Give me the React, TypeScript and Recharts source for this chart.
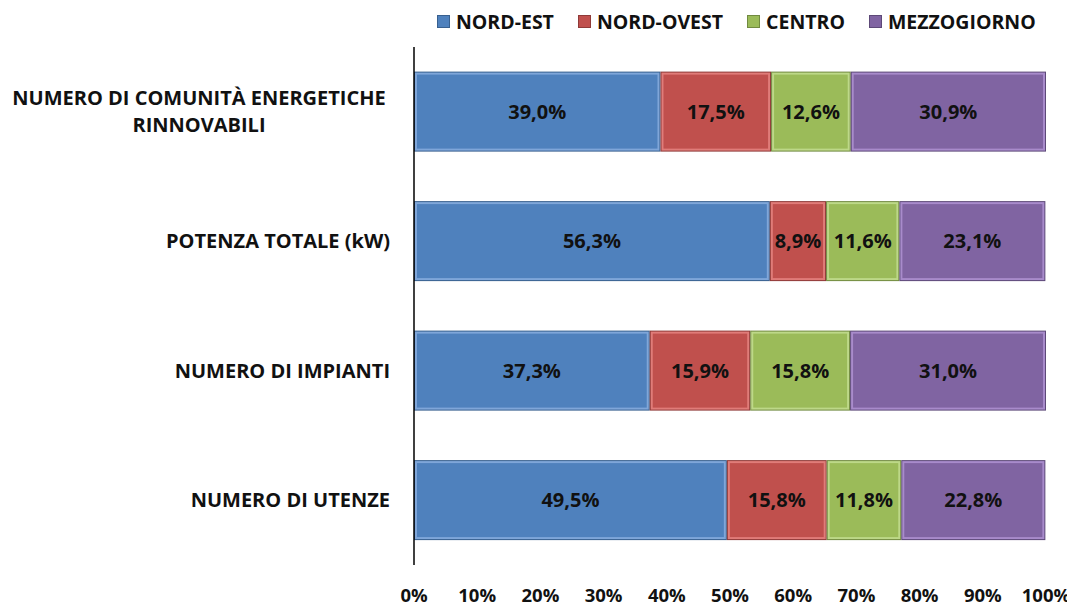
import React from 'react';
import { BarChart, Bar, XAxis, YAxis, LabelList, Legend } from 'recharts';

const categories = [
  'NUMERO DI COMUNITÀ ENERGETICHE\nRINNOVABILI',
  'POTENZA TOTALE (kW)',
  'NUMERO DI IMPIANTI',
  'NUMERO DI UTENZE',
];
const nordEst = [39.0, 56.3, 37.3, 49.5];
const nordOvest = [17.5, 8.9, 15.9, 15.8];
const centro = [12.6, 11.6, 15.8, 11.8];
const mezzogiorno = [30.9, 23.1, 31.0, 22.8];
const xTicks = [0, 10, 20, 30, 40, 50, 60, 70, 80, 90, 100];

const seriesList = [
  { key: 'nordEst', name: 'NORD-EST', fill: '#4F81BD', edge: '#38608f', light: '#7fa6d9' },
  { key: 'nordOvest', name: 'NORD-OVEST', fill: '#C0504D', edge: '#8f3a38', light: '#e07c79' },
  { key: 'centro', name: 'CENTRO', fill: '#9BBB59', edge: '#718a40', light: '#bdd888' },
  { key: 'mezzogiorno', name: 'MEZZOGIORNO', fill: '#8064A2', edge: '#5d4978', light: '#a88bcb' },
];

const data = categories.map((c, i) => ({
  category: c,
  nordEst: nordEst[i],
  nordOvest: nordOvest[i],
  centro: centro[i],
  mezzogiorno: mezzogiorno[i],
}));

const FONT = '"Open Sans", sans-serif';

const fmt = (v: number) => v.toFixed(1).replace('.', ',') + '%';

// bevelled bar, a bit like the old excel 3d look
const makeShape = (fill: string, edge: string, light: string) => (props: any) => {
  const { x, y, width, height } = props;
  if (!width || !height) return null;
  const b = 3;
  return (
    <g>
      <rect x={x} y={y} width={width} height={height} fill={edge} />
      <rect x={x + 1} y={y + 1} width={width - 2} height={height - 2} fill={light} />
      <rect x={x + b} y={y + b} width={width - 2 * b} height={height - 2 * b} fill={fill} />
    </g>
  );
};

const YTick = (props: any) => {
  const { x, y, payload } = props;
  const lines: string[] = String(payload.value).split('\n');
  if (lines.length === 1) {
    return (
      <text x={x - 16} y={y} dy="0.35em" textAnchor="end" fontFamily={FONT} fontWeight={700} fontSize={20} fill="#111">
        {lines[0]}
      </text>
    );
  }
  // multi-line label: lines centred on each other
  const lh = 27;
  return (
    <g>
      {lines.map((l, i) => (
        <text
          key={i}
          x={x - 207}
          y={y + (i - (lines.length - 1) / 2) * lh}
          dy="0.35em"
          textAnchor="middle"
          fontFamily={FONT}
          fontWeight={700}
          fontSize={20}
          fill="#111"
        >
          {l}
        </text>
      ))}
    </g>
  );
};

const LegendContent = () => (
  <div style={{ display: 'flex', justifyContent: 'flex-start', gap: 24, fontFamily: FONT, fontWeight: 700, fontSize: 19.5, color: '#111', paddingLeft: 429 }}>
    {seriesList.map((s) => (
      <div key={s.key} style={{ display: 'flex', alignItems: 'center', gap: 6 }}>
        <span style={{ width: 11, height: 11, background: s.fill, border: `1px solid ${s.edge}`, display: 'inline-block' }} />
        <span>{s.name}</span>
      </div>
    ))}
  </div>
);

export default function App() {
  return (
    <div style={{ width: 1067, height: 599, background: '#fff' }}>
      <BarChart
        width={1067}
        height={599}
        data={data}
        layout="vertical"
        margin={{ top: 17, right: 29, bottom: 0, left: 0 }}
        barCategoryGap="19%"
      >
        <Legend verticalAlign="top" content={<LegendContent />} wrapperStyle={{ top: 0, height: 22 }} />
        <XAxis
          type="number"
          domain={[0, 100]}
          ticks={xTicks}
          tickFormatter={(v) => `${v}%`}
          axisLine={false}
          tickLine={false}
          height={42}
          tickMargin={18}
          interval={0}
          tick={{ fontFamily: FONT, fontWeight: 700, fontSize: 18.5, fill: '#111' }}
        />
        <YAxis
          type="category"
          dataKey="category"
          width={406}
          axisLine={{ stroke: '#000', strokeWidth: 1.5 }}
          tickLine={false}
          tick={<YTick />}
          interval={0}
        />
        {seriesList.map((s) => (
          <Bar
            key={s.key}
            dataKey={s.key}
            name={s.name}
            stackId="a"
            fill={s.fill}
            shape={makeShape(s.fill, s.edge, s.light)}
            isAnimationActive={false}
          >
            <LabelList
              dataKey={s.key}
              position="center"
              formatter={(v: any) => fmt(Number(v))}
              style={{ fontFamily: FONT, fontWeight: 700, fontSize: 20, fill: '#111' }}
            />
          </Bar>
        ))}
      </BarChart>
    </div>
  );
}
